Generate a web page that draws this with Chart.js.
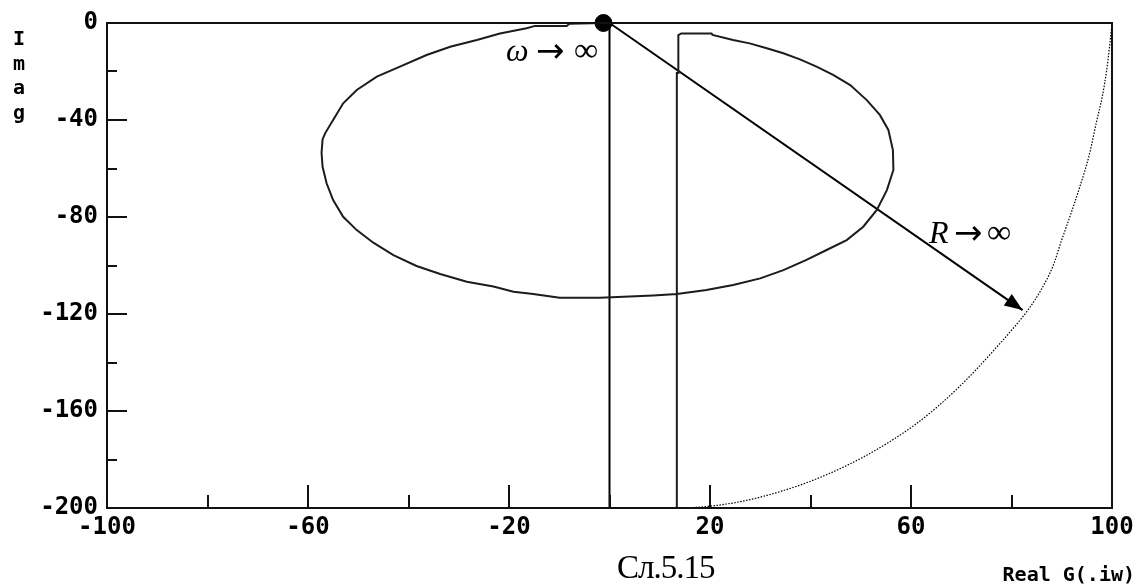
<!DOCTYPE html>
<html>
<head>
<meta charset="utf-8">
<title>Годограф G(jw)</title>
<script src="https://cdn.jsdelivr.net/npm/chart.js@4.4.1/dist/chart.umd.min.js"></script>
<style>
  html, body { margin: 0; padding: 0; background: #fff; }
  #wrap { position: relative; width: 1141px; height: 586px; }
</style>
</head>
<body>
<div id="wrap"><canvas id="nyq" width="1141" height="586"></canvas></div>
<script>
// ── Оски ──────────────────────────────────────────────────────
const xTicks      = [-100, -60, -20, 20, 60, 100];
const xMinorTicks = [-80, -40, 0, 40, 80];
const yTicks      = [0, -40, -80, -120, -160, -200];
const yMinorTicks = [-20, -60, -100, -140, -180];

// ── Годограф G(jw): Re / Im ───────────────────────────────────
const curveRe = [13.4, 13.4, 13.7, 13.7, 14.3, 20.3, 20.5, 24.6, 27.9, 31.3, 34.6, 37.9, 41.2, 44.5, 47.9,
  51.2, 53.8, 55.5, 56.4, 56.5, 55.2, 53.2, 50.5, 47.2, 43.2, 39.2, 34.6, 30.0, 24.6, 19.3, 13.4, 8.7,
  -1.9, -9.9, -15.2, -19.1, -23.1, -28.4, -33.7, -38.4, -43.0, -47.0, -50.3, -53.0, -55.0, -56.3, -57.1,
  -57.3, -57.1, -56.6, -55.0, -53.0, -50.3, -46.3, -41.7, -36.4, -31.7, -26.4, -21.8, -16.5, -14.8, -8.5,
  -8.0, -1.2];
const curveIm = [-200, -20.6, -20.6, -5.0, -4.3, -4.3, -4.9, -7.0, -8.4, -10.4, -12.5, -15.0, -18.0, -21.4, -25.6,
  -31.8, -37.9, -44.1, -52.4, -60.6, -68.9, -77.1, -84.0, -89.5, -93.6, -97.7, -101.9, -105.3, -108.0, -110.1, -111.8, -112.4,
  -113.3, -113.3, -111.8, -110.8, -108.7, -106.7, -103.5, -100.2, -95.7, -90.6, -85.4, -79.9, -73.0, -66.1, -59.3,
  -53.5, -48.0, -45.5, -40.0, -33.1, -27.6, -22.1, -18.0, -13.2, -9.8, -7.0, -4.3, -2.2, -1.2, -1.2,
  -0.3, 0];

// имагинарна оска (Re = 0)
const axisRe = [0, 0];
const axisIm = [0, -200];

// полукружница со R → ∞
const arcRe = [100, 99.5, 98.9, 98.1, 97.0, 95.4, 93.6, 91.6, 89.9, 88.3, 85.9, 83.4, 80.3, 76.9, 73.4,
  69.6, 65.4, 60.9, 55.9, 50.5, 44.6, 38.0, 30.6, 25.5, 19.8, 16.0, 13.4];
const arcIm = [0, -10, -20, -30, -40, -55, -67.5, -80, -90, -100, -110, -118, -126, -134, -142,
  -150, -158, -165.5, -172.5, -179, -185, -190.5, -195.2, -197.6, -199.3, -199.9, -200];

// стрелка за радиусот
const arrowRe = [0, 82.2];
const arrowIm = [0, -118.4];

// точката w → ∞
const originRe = [-1.2];
const originIm = [0];

const toPts = (re, im) => re.map((v, i) => ({ x: v, y: im[i] }));

const monoBold = '"DejaVu Sans Mono", monospace';
const serif    = '"Liberation Serif", "Times New Roman", serif';
const arrowFnt = '"DejaVu Sans", sans-serif';

// ── Рамка и цртички на оските (навнатре) ──────────────────────
const frameTicks = {
  id: "frameTicks",
  afterDatasetsDraw(chart) {
    const { ctx, chartArea: a, scales: { x, y } } = chart;
    ctx.save();
    ctx.strokeStyle = "#111";
    ctx.lineWidth = 2;
    ctx.strokeRect(a.left, a.top, a.right - a.left, a.bottom - a.top);
    ctx.beginPath();
    xTicks.forEach(v => { const p = Math.round(x.getPixelForValue(v)); ctx.moveTo(p, a.bottom); ctx.lineTo(p, a.bottom - 23); });
    xMinorTicks.forEach(v => { const p = Math.round(x.getPixelForValue(v)); ctx.moveTo(p, a.bottom); ctx.lineTo(p, a.bottom - 13); });
    yTicks.forEach(v => { const p = Math.round(y.getPixelForValue(v)); ctx.moveTo(a.left, p); ctx.lineTo(a.left + 20, p); });
    yMinorTicks.forEach(v => { const p = Math.round(y.getPixelForValue(v)); ctx.moveTo(a.left, p); ctx.lineTo(a.left + 10, p); });
    ctx.stroke();
    ctx.restore();
  }
};

// ── Врв на стрелката ──────────────────────────────────────────
const arrowHead = {
  id: "arrowHead",
  afterDatasetsDraw(chart) {
    const pts = chart.getDatasetMeta(3).data;
    const a = pts[pts.length - 2], b = pts[pts.length - 1];
    const ang = Math.atan2(b.y - a.y, b.x - a.x);
    const len = 18, half = 7;
    const { ctx } = chart;
    ctx.save();
    ctx.translate(b.x, b.y);
    ctx.rotate(ang);
    ctx.fillStyle = "#000";
    ctx.beginPath();
    ctx.moveTo(0, 0);
    ctx.lineTo(-len, -half);
    ctx.lineTo(-len, half);
    ctx.closePath();
    ctx.fill();
    ctx.restore();
  }
};

// ── Натписи ───────────────────────────────────────────────────
const captions = {
  id: "captions",
  afterDraw(chart) {
    const { ctx } = chart;
    ctx.save();
    ctx.fillStyle = "#000";
    ctx.textBaseline = "alphabetic";
    ctx.textAlign = "left";

    // ω → ∞
    ctx.font = "italic 32px " + serif;
    ctx.fillText("ω", 506, 61);
    ctx.font = "34px " + arrowFnt;
    ctx.fillText("→", 536, 62);
    ctx.font = "34px " + serif;
    ctx.fillText("∞", 574, 61);

    // R → ∞
    ctx.font = "italic 32px " + serif;
    ctx.fillText("R", 929, 243);
    ctx.font = "34px " + arrowFnt;
    ctx.fillText("→", 954, 244);
    ctx.font = "34px " + serif;
    ctx.fillText("∞", 987, 243);

    // вертикален натпис Imag
    ctx.font = "bold 20px " + monoBold;
    ctx.textAlign = "center";
    ["I", "m", "a", "g"].forEach((ch, i) => ctx.fillText(ch, 19, 45 + i * 24.5));

    // Real G(.iw)
    ctx.textAlign = "right";
    ctx.fillText("Real G(.iw)", 1135, 581);

    // број на сликата
    ctx.font = "33px " + serif;
    ctx.textAlign = "left";
    ctx.letterSpacing = "-1px";
    ctx.fillText("Сл.5.15", 617, 578);
    ctx.restore();
  }
};

new Chart(document.getElementById("nyq"), {
  type: "scatter",
  data: {
    datasets: [
      { data: toPts(curveRe, curveIm), showLine: true, borderColor: "#1c1c1c", borderWidth: 2, pointRadius: 0, tension: 0 },
      { data: toPts(axisRe, axisIm), showLine: true, borderColor: "#000", borderWidth: 2, pointRadius: 0 },
      { data: toPts(arcRe, arcIm), showLine: true, borderColor: "#000", borderWidth: 1.2, borderDash: [1.5, 1.5],
        pointRadius: 0, cubicInterpolationMode: "monotone" },
      { data: toPts(arrowRe, arrowIm), showLine: true, borderColor: "#000", borderWidth: 2, pointRadius: 0 },
      { data: toPts(originRe, originIm), pointRadius: 8.5, pointStyle: "circle", backgroundColor: "#000", borderColor: "#000", borderWidth: 1 }
    ]
  },
  options: {
    responsive: false,
    animation: false,
    devicePixelRatio: 1,
    clip: false,
    layout: { padding: { top: 23, right: 29, left: 0, bottom: 0 } },
    plugins: { legend: { display: false }, tooltip: { enabled: false } },
    scales: {
      x: {
        type: "linear", min: -100, max: 100,
        afterBuildTicks: s => { s.ticks = xTicks.map(v => ({ value: v })); },
        afterFit: s => { s.height = 78; s.paddingLeft = 0; s.paddingRight = 0; },
        grid: { display: false, drawTicks: false },
        border: { display: false },
        ticks: { maxRotation: 0, autoSkip: false, padding: 5, color: "#000",
                 font: { family: monoBold, weight: "bold", size: 24 } }
      },
      y: {
        type: "linear", min: -200, max: 0,
        afterBuildTicks: s => { s.ticks = yTicks.map(v => ({ value: v })); },
        afterFit: s => { s.width = 107; s.paddingTop = 0; s.paddingBottom = 0; },
        grid: { display: false, drawTicks: false },
        border: { display: false },
        ticks: { autoSkip: false, padding: 9, color: "#000",
                 font: { family: monoBold, weight: "bold", size: 24 } }
      }
    }
  },
  plugins: [frameTicks, arrowHead, captions]
});
</script>
</body>
</html>
